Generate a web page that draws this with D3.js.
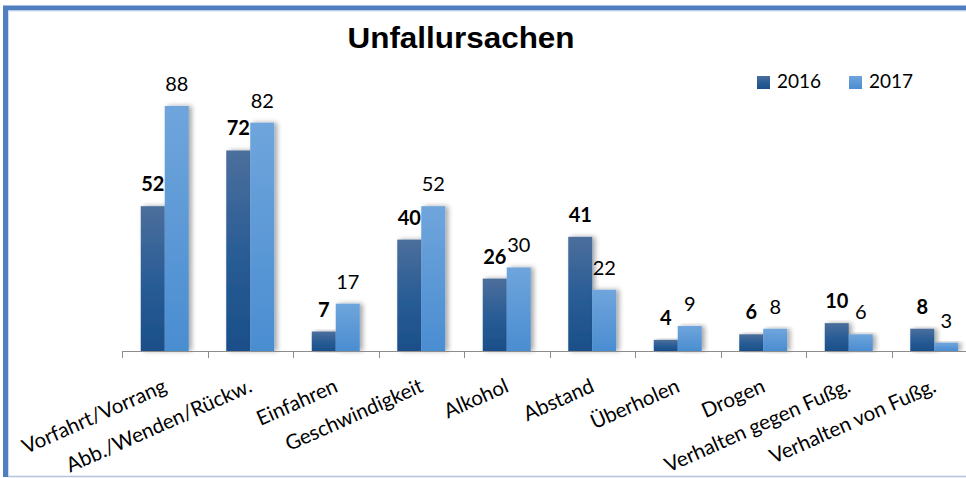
<!DOCTYPE html>
<html>
<head>
<meta charset="utf-8">
<script src="https://cdn.jsdelivr.net/npm/d3@7"></script>
<style>
  html, body { margin: 0; padding: 0; background: #fff; }
  svg { display: block; }
</style>
</head>
<body>
<svg id="chart" width="966" height="478"></svg>
<script>
// Unfallursachen 2016 / 2017
const categories = ["Vorfahrt/Vorrang", "Abb./Wenden/Rückw.", "Einfahren", "Geschwindigkeit",
  "Alkohol", "Abstand", "Überholen", "Drogen", "Verhalten gegen Fußg.", "Verhalten von Fußg."];
const values2016 = [52, 72, 7, 40, 26, 41, 4, 6, 10, 8];
const values2017 = [88, 82, 17, 52, 30, 22, 9, 8, 6, 3];
const seriesNames = ["2016", "2017"];

const svg = d3.select("#chart");
const W = 966, H = 478;

const defs = svg.append("defs");
const g16 = defs.append("linearGradient").attr("id", "grad2016").attr("x1", 0).attr("y1", 0).attr("x2", 0).attr("y2", 1);
g16.append("stop").attr("offset", "0%").attr("stop-color", "#4c6f9c");
g16.append("stop").attr("offset", "50%").attr("stop-color", "#2a5d96");
g16.append("stop").attr("offset", "100%").attr("stop-color", "#1a4f89");
const g17 = defs.append("linearGradient").attr("id", "grad2017").attr("x1", 0).attr("y1", 0).attr("x2", 0).attr("y2", 1);
g17.append("stop").attr("offset", "0%").attr("stop-color", "#6fa5dc");
g17.append("stop").attr("offset", "100%").attr("stop-color", "#4a8dd1");
const sh = defs.append("filter").attr("id", "shadow").attr("x", "-30%").attr("y", "-10%").attr("width", "160%").attr("height", "120%");
sh.append("feDropShadow").attr("dx", 3).attr("dy", 0).attr("stdDeviation", 2.5).attr("flood-color", "#000").attr("flood-opacity", 0.35);

// Frame
svg.append("rect").attr("x", 0).attr("y", 0).attr("width", W).attr("height", H).attr("fill", "#fff");
svg.append("line").attr("x1", 3).attr("x2", W).attr("y1", 8).attr("y2", 8).attr("stroke", "#4f7fc0").attr("stroke-width", 5);
svg.append("line").attr("x1", 5.5).attr("x2", 5.5).attr("y1", 6).attr("y2", 477).attr("stroke", "#4f7fc0").attr("stroke-width", 5);
svg.append("line").attr("x1", 8).attr("x2", W).attr("y1", 11).attr("y2", 11).attr("stroke", "#cfdcee").attr("stroke-width", 1);
svg.append("line").attr("x1", 8.5).attr("x2", 8.5).attr("y1", 11).attr("y2", 476).attr("stroke", "#cfdcee").attr("stroke-width", 1);
svg.append("line").attr("x1", 8).attr("x2", W).attr("y1", 476.5).attr("y2", 476.5).attr("stroke", "#b4c4dc").attr("stroke-width", 1.5);

// Scales
const x = d3.scaleBand().domain(categories).range([122, 122 + 85.5 * categories.length]);
const xs = d3.scaleBand().domain(seriesNames).range([x.bandwidth() / 2 - 24, x.bandwidth() / 2 + 24]);
const y = d3.scaleLinear().domain([0, 100]).range([351, 72.5]);

// Title
svg.append("text").attr("x", 461).attr("y", 48).attr("text-anchor", "middle")
  .attr("font-family", "Liberation Sans, Arial, sans-serif").attr("font-weight", "bold")
  .attr("font-size", 29).attr("fill", "#000").attr("textLength", 227).attr("lengthAdjust", "spacingAndGlyphs")
  .text("Unfallursachen");

// Bars
const groups = svg.append("g").selectAll("g").data(categories).join("g")
  .attr("transform", d => `translate(${x(d)},0)`);
const series = [values2016, values2017];
seriesNames.forEach((s, si) => {
  groups.append("rect")
    .attr("x", xs(s))
    .attr("width", xs.bandwidth())
    .attr("y", (d, i) => y(series[si][i]))
    .attr("height", (d, i) => y(0) - y(series[si][i]))
    .attr("fill", si === 0 ? "url(#grad2016)" : "url(#grad2017)")
    .attr("filter", "url(#shadow)");
});

// Value labels
seriesNames.forEach((s, si) => {
  groups.append("text")
    .attr("x", xs(s) + xs.bandwidth() / 2)
    .attr("y", (d, i) => y(series[si][i]) - 15)
    .attr("text-anchor", "middle")
    .attr("font-family", "Lato, Carlito, sans-serif")
    .attr("font-weight", si === 0 ? "bold" : "normal")
    .attr("font-size", 20)
    .attr("fill", "#000")
    .text((d, i) => series[si][i]);
});

// Axis
const axis = d3.axisBottom(x).tickSize(6).tickFormat("");
const ax = svg.append("g").attr("transform", "translate(0,351)").call(axis);
ax.select(".domain").attr("stroke", "#8c8c8c").attr("d", `M122,0.5H${122 + 85.5 * categories.length}`);
ax.selectAll(".tick").remove();
const edges = d3.range(categories.length + 1).map(i => 122 + 85.5 * i);
ax.selectAll(".edge").data(edges).join("line").attr("class", "edge")
  .attr("x1", d => Math.round(d) + 0.5).attr("x2", d => Math.round(d) + 0.5)
  .attr("y1", 0).attr("y2", 7).attr("stroke", "#8c8c8c");

// Category labels
svg.append("g").selectAll("text").data(categories).join("text")
  .attr("transform", d => `translate(${x(d) + x.bandwidth() / 2 - 3},377) rotate(-24)`)
  .attr("text-anchor", "end")
  .attr("dy", "0.75em")
  .attr("font-family", "Lato, Carlito, sans-serif")
  .attr("font-size", 20.5)
  .attr("fill", "#000")
  .text(d => d);

// Legend
const leg = svg.append("g");
const legX = [757, 849];
seriesNames.forEach((s, si) => {
  leg.append("rect").attr("x", legX[si]).attr("y", 76).attr("width", 13).attr("height", 13)
    .attr("fill", si === 0 ? "url(#grad2016)" : "url(#grad2017)");
  leg.append("text").attr("x", legX[si] + 20).attr("y", 88)
    .attr("font-family", "Lato, Carlito, sans-serif").attr("font-size", 19).attr("fill", "#000")
    .text(s);
});
</script>
</body>
</html>
